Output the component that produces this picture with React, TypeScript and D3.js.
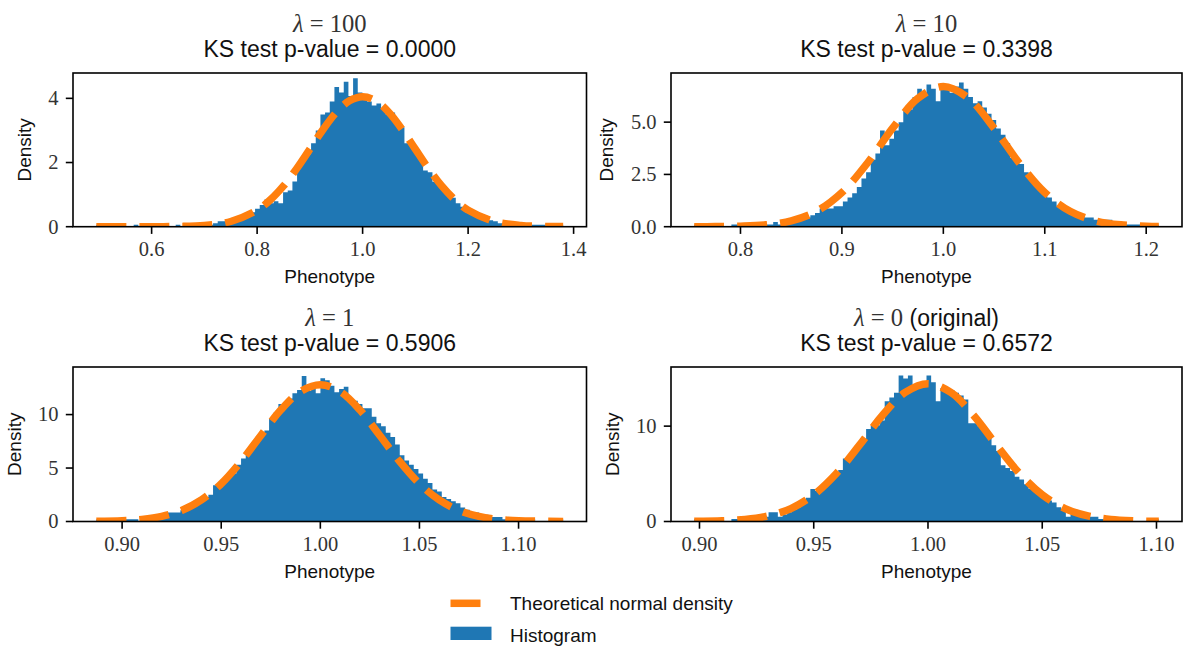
import React from "react";
import * as d3 from "d3";

// ---------- data ----------
const lambdaLabels = ["100", "10", "1", "0"];
const lambdaSuffix = ["", "", "", " (original)"];
const pValues = ["0.0000", "0.3398", "0.5906", "0.6572"];

// histogram bins: first bin edge and bin width per panel (100 bins each)
const binStart = [0.4952, 0.7544, 0.887, 0.8977];
const binWidth = [0.00885, 0.00458, 0.002355, 0.002033];
const yMax = [4.79, 7.35, 14.45, 16.2];

const hist100 = [
  0.06, 0, 0, 0, 0, 0, 0, 0, 0.06, 0,
  0, 0, 0, 0, 0, 0, 0, 0.06, 0, 0,
  0, 0.06, 0, 0.06, 0.06, 0.11, 0.17, 0.17, 0.22, 0.28,
  0.28, 0.34, 0.39, 0.45, 0.56, 0.68, 0.85, 0.73, 0.79, 0.73,
  1.07, 1.13, 1.41, 1.86, 2.2, 2.26, 2.6, 3.0, 3.5, 3.56,
  3.9, 4.35, 4.18, 4.52, 4.07, 4.63, 4.18, 3.96, 3.9, 3.78,
  3.84, 3.67, 3.5, 3.56, 3.3, 3.1, 2.6, 2.55, 2.4, 2.1,
  1.75, 1.7, 1.4, 1.3, 1.15, 1.07, 0.9, 0.73, 0.62, 0.45,
  0.39, 0.34, 0.28, 0.28, 0.2, 0.17, 0.11, 0.11, 0.06, 0.11,
  0.06, 0.06, 0.06, 0.06, 0.06, 0.06, 0.06, 0, 0.06, 0.06,
];
const hist10 = [
  0.11, 0, 0, 0, 0, 0, 0, 0, 0.11, 0.11,
  0, 0.11, 0, 0, 0.11, 0.11, 0.11, 0.22, 0.11, 0.22,
  0.22, 0.22, 0.33, 0.33, 0.44, 0.55, 0.66, 0.87, 0.87, 0.87,
  0.98, 0.98, 1.2, 1.4, 1.6, 1.9, 2.3, 2.6, 3.2, 3.5,
  4.6, 3.9, 4.2, 4.6, 5.0, 5.6, 5.6, 6.2, 6.6, 6.4,
  6.8, 6.6, 6.0, 6.6, 6.6, 6.4, 6.7, 6.9, 6.6, 6.2,
  5.9, 6.0, 5.7, 5.4, 5.1, 4.7, 4.4, 4.0, 3.3, 3.2,
  3.0, 2.6, 2.4, 2.1, 1.9, 1.7, 1.4, 1.2, 1.0, 0.98,
  0.87, 0.77, 0.66, 0.55, 0.44, 0.44, 0.33, 0.33, 0.33, 0.33,
  0.22, 0.22, 0.22, 0.11, 0.11, 0.11, 0.11, 0.11, 0.11, 0.11,
];
const hist1 = [
  0.21, 0, 0, 0, 0, 0.21, 0.21, 0.21, 0.21, 0,
  0.21, 0.42, 0.21, 0.42, 0.64, 0.85, 0.85, 0.85, 1.06, 1.27,
  1.49, 1.7, 1.9, 2.3, 2.5, 3.4, 3.2, 3.6, 4.2, 4.5,
  5.3, 5.9, 6.4, 7.0, 7.4, 8.1, 8.5, 9.6, 10.2, 11.0,
  10.8, 11.5, 12.0, 12.3, 13.6, 12.2, 12.4, 12.0, 13.4, 13.2,
  12.7, 12.1, 12.4, 12.6, 11.5, 11.3, 11.0, 10.6, 10.6, 9.8,
  9.2, 8.9, 8.3, 7.9, 7.2, 6.2, 5.7, 5.3, 4.9, 4.5,
  4.0, 3.6, 3.0, 2.8, 2.3, 2.1, 1.9, 1.7, 1.3, 1.1,
  0.85, 0.85, 0.64, 0.64, 0.42, 0.42, 0.42, 0.21, 0.21, 0.21,
  0.21, 0, 0, 0.21, 0, 0, 0, 0, 0, 0.21,
];
const hist0 = [
  0.25, 0, 0, 0, 0, 0, 0, 0, 0.25, 0.25,
  0, 0, 0, 0.25, 0.25, 0.49, 0.98, 0.98, 0.49, 0.74,
  0.98, 1.2, 1.5, 2.0, 2.5, 3.4, 3.2, 3.4, 4.2, 4.4,
  5.2, 5.4, 6.6, 6.9, 7.2, 8.0, 8.4, 9.7, 10.1, 10.1,
  10.6, 12.6, 13.0, 13.5, 15.3, 15.0, 15.3, 14.3, 14.6, 14.3,
  15.3, 14.6, 12.6, 14.0, 14.0, 13.8, 13.5, 13.2, 12.8, 10.3,
  10.3, 10.0, 9.5, 9.0, 8.0, 7.4, 5.9, 5.6, 5.3, 4.7,
  4.4, 3.9, 3.4, 3.2, 2.7, 2.5, 2.2, 2.0, 1.5, 1.2,
  0.49, 1.0, 0.74, 0.74, 0.49, 0.49, 0.49, 0.25, 0.25, 0.25,
  0.25, 0, 0, 0, 0, 0, 0, 0, 0, 0.25,
];

// theoretical normal density curves
const curveX100 = [0.4952, 0.55, 0.6, 0.65, 0.7, 0.75, 0.8, 0.825, 0.85, 0.875, 0.9, 0.925, 0.95, 0.975, 1.0, 1.025, 1.05, 1.075, 1.1, 1.125, 1.15, 1.175, 1.2, 1.25, 1.3, 1.35, 1.3802];
const curveY100 = [0.0, 0.0001, 0.0011, 0.0074, 0.039, 0.162, 0.516, 0.836, 1.271, 1.81, 2.418, 3.03, 3.56, 3.922, 4.05, 3.922, 3.56, 3.03, 2.418, 1.81, 1.271, 0.836, 0.516, 0.162, 0.039, 0.0074, 0.0024];
const curveX10 = [0.7544, 0.775, 0.8, 0.825, 0.85, 0.875, 0.9, 0.925, 0.95, 0.975, 1.0, 1.025, 1.05, 1.075, 1.1, 1.125, 1.15, 1.175, 1.2, 1.2124];
const curveY10 = [0.0013, 0.0053, 0.0237, 0.0886, 0.279, 0.737, 1.635, 3.036, 4.711, 6.139, 6.705, 6.139, 4.711, 3.036, 1.635, 0.737, 0.279, 0.0886, 0.0237, 0.0057];
const curveX1 = [0.887, 0.9, 0.91, 0.92, 0.93, 0.94, 0.95, 0.96, 0.97, 0.98, 0.99, 1.0, 1.01, 1.02, 1.03, 1.04, 1.05, 1.06, 1.07, 1.08, 1.09, 1.1, 1.1225];
const curveY1 = [0.0181, 0.0754, 0.1998, 0.4788, 1.03, 2.013, 3.537, 5.618, 8.045, 10.42, 12.15, 12.79, 12.15, 10.42, 8.045, 5.618, 3.537, 2.013, 1.03, 0.4788, 0.1998, 0.0754, 0.0058];
const curveX0 = [0.8977, 0.91, 0.92, 0.93, 0.94, 0.95, 0.96, 0.97, 0.98, 0.99, 1.0, 1.01, 1.02, 1.03, 1.04, 1.05, 1.06, 1.07, 1.08, 1.09, 1.101];
const curveY0 = [0.015, 0.071, 0.2163, 0.5796, 1.358, 2.8, 5.057, 8.003, 11.12, 13.53, 14.45, 13.53, 11.12, 8.003, 5.057, 2.8, 1.358, 0.5796, 0.2163, 0.071, 0.0181];

const xTickLabels = [
  ["0.6", "0.8", "1.0", "1.2", "1.4"],
  ["0.8", "0.9", "1.0", "1.1", "1.2"],
  ["0.90", "0.95", "1.00", "1.05", "1.10"],
  ["0.90", "0.95", "1.00", "1.05", "1.10"],
];
const yTickLabels = [
  ["0", "2", "4"],
  ["0.0", "2.5", "5.0"],
  ["0", "5", "10"],
  ["0", "10"],
];

const hists = [hist100, hist10, hist1, hist0];
const curvesX = [curveX100, curveX10, curveX1, curveX0];
const curvesY = [curveY100, curveY10, curveY1, curveY0];

const legendLabels = ["Theoretical normal density", "Histogram"];

// ---------- layout / style ----------
const layout = [
  { left: 73, right: 586.5, top: 73, bottom: 226.7 },
  { left: 671, right: 1182, top: 73, bottom: 226.7 },
  { left: 73, right: 586.5, top: 367, bottom: 521.5 },
  { left: 671, right: 1182, top: 367, bottom: 521.5 },
];
const BLUE = "#1f77b4";
const ORANGE = "#ff7f0e";
const SANS = "'Liberation Sans', Arial, sans-serif";
const SERIF = "'Liberation Serif', 'Times New Roman', serif";
const TICK_FS = 20.5;
const LABEL_FS = 19;
const TITLE_FS = 23;
const TITLE_SERIF_FS = 24.6;
const TICK_LEN = 7.2;
const LW = 1.6;
const DASH = "30 13";
const CURVE_W = 7.5;

function labelWidth(s: string) {
  let w = 0;
  for (const c of s) w += c === "." ? 0.25 : 0.5;
  return w * TICK_FS;
}

function Panel({ idx }: { idx: number }) {
  const L = layout[idx];
  const hist = hists[idx];
  const start = binStart[idx];
  const bw = binWidth[idx];
  const end = start + hist.length * bw;
  const R = end - start;
  const x = d3.scaleLinear().domain([start - 0.05 * R, end + 0.05 * R]).range([L.left, L.right]);
  const y = d3.scaleLinear().domain([0, yMax[idx]]).range([L.bottom, L.top]);

  const pts: [number, number][] = hist.map((v, k) => [start + k * bw, v] as [number, number]);
  pts.push([end, hist[hist.length - 1]]);
  const area = d3
    .area<[number, number]>()
    .x((d) => x(d[0]))
    .y0(y(0))
    .y1((d) => y(d[1]))
    .curve(d3.curveStepAfter);

  const cx = curvesX[idx];
  const cy = curvesY[idx];
  const cpts: [number, number][] = cx.map((v, k) => [v, cy[k]] as [number, number]);
  const line = d3
    .line<[number, number]>()
    .x((d) => x(d[0]))
    .y((d) => y(d[1]))
    .curve(d3.curveCatmullRom.alpha(0.5));

  const clipId = `clip${idx}`;
  const midX = (L.left + L.right) / 2;
  const midY = (L.top + L.bottom) / 2;
  const yl = yTickLabels[idx];
  const maxW = Math.max(...yl.map(labelWidth));
  const ylabX = L.left - (TICK_LEN * 2 + maxW + 17.5);

  return (
    <g>
      <defs>
        <clipPath id={clipId}>
          <rect x={L.left} y={L.top} width={L.right - L.left} height={L.bottom - L.top} />
        </clipPath>
      </defs>
      <g clipPath={`url(#${clipId})`}>
        <path d={area(pts) || ""} fill={BLUE} stroke="none" />
        <path
          d={line(cpts) || ""}
          fill="none"
          stroke={ORANGE}
          strokeWidth={CURVE_W}
          strokeDasharray={DASH}
        />
      </g>
      <rect
        x={L.left}
        y={L.top}
        width={L.right - L.left}
        height={L.bottom - L.top}
        fill="none"
        stroke="#000"
        strokeWidth={LW}
      />
      {xTickLabels[idx].map((t) => {
        const px = x(+t);
        return (
          <g key={"x" + t}>
            <line x1={px} x2={px} y1={L.bottom} y2={L.bottom + TICK_LEN} stroke="#000" strokeWidth={LW} />
            <text
              x={px}
              y={L.bottom + 29.5}
              textAnchor="middle"
              fontFamily={SERIF}
              fontSize={TICK_FS}
              fill="#333"
            >
              {t}
            </text>
          </g>
        );
      })}
      {yl.map((t) => {
        const py = y(+t);
        return (
          <g key={"y" + t}>
            <line x1={L.left - TICK_LEN} x2={L.left} y1={py} y2={py} stroke="#000" strokeWidth={LW} />
            <text
              x={L.left - TICK_LEN * 2}
              y={py + 6.8}
              textAnchor="end"
              fontFamily={SERIF}
              fontSize={TICK_FS}
              fill="#333"
            >
              {t}
            </text>
          </g>
        );
      })}
      <text
        x={midX}
        y={L.bottom + 56.5}
        textAnchor="middle"
        fontFamily={SANS}
        fontSize={LABEL_FS}
        fill="#111"
      >
        Phenotype
      </text>
      <text
        transform={`translate(${ylabX},${midY}) rotate(-90)`}
        textAnchor="middle"
        fontFamily={SANS}
        fontSize={LABEL_FS}
        fill="#111"
      >
        Density
      </text>
      <text x={midX} y={L.top - 41.5} textAnchor="middle" fontSize={TITLE_SERIF_FS} fill="#333">
        <tspan fontFamily={SERIF} fontStyle="italic">λ</tspan>
        <tspan fontFamily={SERIF}>{" = " + lambdaLabels[idx]}</tspan>
        {lambdaSuffix[idx] ? (
          <tspan fontFamily={SANS} fontSize={TITLE_FS} fill="#111">
            {lambdaSuffix[idx]}
          </tspan>
        ) : null}
      </text>
      <text
        x={midX}
        y={L.top - 16}
        textAnchor="middle"
        fontFamily={SANS}
        fontSize={TITLE_FS}
        fill="#111"
      >
        {"KS test p-value = " + pValues[idx]}
      </text>
    </g>
  );
}

export default function App() {
  return (
    <svg
      width={1184}
      height={648}
      style={{ position: "absolute", left: 0, top: 0, display: "block" }}
    >
      <rect x={0} y={0} width={1184} height={648} fill="#fff" />
      {layout.map((_, i) => (
        <Panel key={i} idx={i} />
      ))}
      <g>
        <line
          x1={450.5}
          x2={491.5}
          y1={603.3}
          y2={603.3}
          stroke={ORANGE}
          strokeWidth={CURVE_W}
          strokeDasharray={DASH}
        />
        <text x={510} y={610} fontFamily={SANS} fontSize={LABEL_FS} fill="#111">
          {legendLabels[0]}
        </text>
        <rect x={450.5} y={626.7} width={41} height={13.3} fill={BLUE} />
        <text x={510} y={641.5} fontFamily={SANS} fontSize={LABEL_FS} fill="#111">
          {legendLabels[1]}
        </text>
      </g>
    </svg>
  );
}
